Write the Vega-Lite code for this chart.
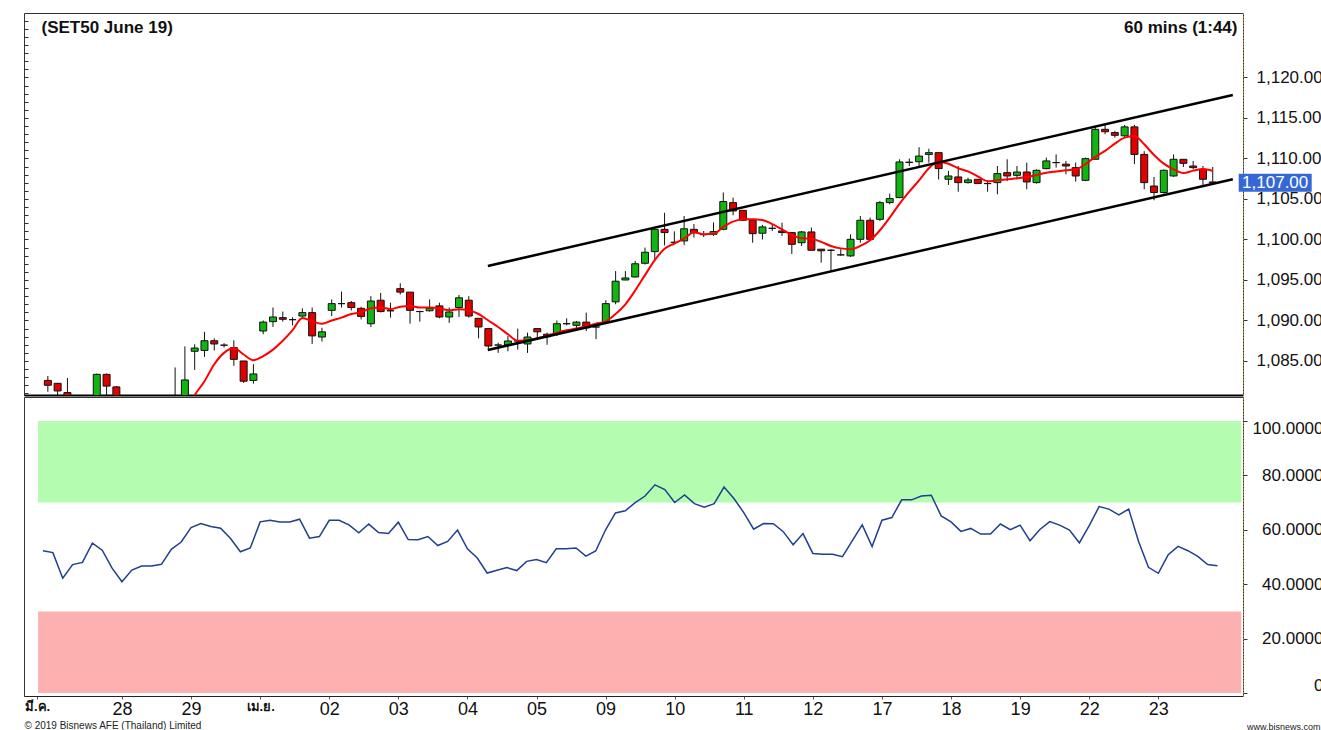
{
"$schema": "https://vega.github.io/schema/vega-lite/v6.json",
"background": "white",
"padding": {"left": 23, "top": 12, "right": 0, "bottom": 0},
"config": {"font": "Liberation Sans", "view": {"stroke": "#333"}, "axis": {"grid": false}},
"datasets": {
"bars": [
{"i":0,"o":1082.6,"h":1083.15,"l":1081.2,"c":1082.0,"rsi":52.3},
{"i":1,"o":1082.24,"h":1082.3,"l":1080.4,"c":1081.3,"rsi":51.6},
{"i":2,"o":1081.1,"h":1082.9,"l":1078.0,"c":1078.5,"rsi":42.2},
{"i":3,"o":1078.6,"h":1080.2,"l":1077.8,"c":1079.4,"rsi":47.2},
{"i":4,"o":1079.4,"h":1080.4,"l":1078.9,"c":1079.6,"rsi":48.0},
{"i":5,"o":1079.6,"h":1083.45,"l":1079.3,"c":1083.35,"rsi":55.1},
{"i":6,"o":1083.35,"h":1083.45,"l":1080.0,"c":1081.9,"rsi":52.5},
{"i":7,"o":1081.8,"h":1081.9,"l":1079.5,"c":1079.8,"rsi":45.9},
{"i":8,"o":1079.8,"h":1080.2,"l":1077.0,"c":1077.5,"rsi":40.9},
{"i":9,"o":1077.5,"h":1078.8,"l":1077.2,"c":1078.6,"rsi":45.2},
{"i":10,"o":1078.6,"h":1079.3,"l":1078.2,"c":1079.0,"rsi":46.7},
{"i":11,"o":1079.0,"h":1079.4,"l":1078.6,"c":1079.0,"rsi":46.7},
{"i":12,"o":1079.0,"h":1079.6,"l":1078.7,"c":1079.2,"rsi":47.3},
{"i":13,"o":1079.2,"h":1084.2,"l":1079.0,"c":1080.4,"rsi":52.8},
{"i":14,"o":1080.4,"h":1086.8,"l":1080.0,"c":1082.66,"ma":1078.8,"rsi":55.5},
{"i":15,"o":1086.2,"h":1087.06,"l":1083.9,"c":1086.6,"ma":1080.8,"rsi":60.8},
{"i":16,"o":1086.3,"h":1088.6,"l":1085.5,"c":1087.5,"ma":1082.5,"rsi":62.3},
{"i":17,"o":1087.5,"h":1087.8,"l":1086.3,"c":1087.1,"ma":1084.6,"rsi":61.2},
{"i":18,"o":1086.95,"h":1087.2,"l":1086.65,"c":1086.95,"ma":1086.0,"rsi":60.6},
{"i":19,"o":1086.65,"h":1087.55,"l":1084.4,"c":1085.2,"ma":1086.6,"rsi":56.8},
{"i":20,"o":1085.0,"h":1085.0,"l":1082.3,"c":1082.5,"ma":1085.8,"rsi":51.9},
{"i":21,"o":1082.6,"h":1084.6,"l":1082.2,"c":1083.4,"ma":1085.1,"rsi":53.3},
{"i":22,"o":1088.7,"h":1090.0,"l":1088.3,"c":1089.8,"ma":1085.6,"rsi":62.9},
{"i":23,"o":1089.86,"h":1091.6,"l":1089.2,"c":1090.43,"ma":1086.4,"rsi":63.5},
{"i":24,"o":1090.35,"h":1091.1,"l":1089.86,"c":1090.15,"ma":1087.5,"rsi":62.9},
{"i":25,"o":1090.1,"h":1090.4,"l":1089.4,"c":1090.1,"ma":1088.8,"rsi":62.9},
{"i":26,"o":1090.55,"h":1091.5,"l":1090.43,"c":1090.97,"ma":1090.3,"rsi":63.9},
{"i":27,"o":1090.97,"h":1091.6,"l":1087.1,"c":1088.1,"ma":1089.9,"rsi":56.9},
{"i":28,"o":1087.96,"h":1089.1,"l":1087.4,"c":1088.6,"ma":1089.6,"rsi":57.5},
{"i":29,"o":1091.25,"h":1092.6,"l":1090.55,"c":1092.08,"ma":1090.0,"rsi":63.5},
{"i":30,"o":1092.08,"h":1093.56,"l":1091.6,"c":1092.08,"ma":1090.35,"rsi":63.5},
{"i":31,"o":1092.2,"h":1092.4,"l":1091.25,"c":1091.6,"ma":1090.8,"rsi":61.8},
{"i":32,"o":1091.5,"h":1091.7,"l":1090.14,"c":1090.5,"ma":1091.0,"rsi":58.9},
{"i":33,"o":1089.6,"h":1093.0,"l":1089.2,"c":1092.4,"ma":1091.5,"rsi":62.1},
{"i":34,"o":1092.5,"h":1093.4,"l":1091.0,"c":1091.1,"ma":1091.6,"rsi":59.0},
{"i":35,"o":1091.2,"h":1092.2,"l":1090.35,"c":1091.2,"ma":1091.4,"rsi":58.6},
{"i":36,"o":1093.93,"h":1094.6,"l":1093.2,"c":1093.5,"ma":1091.7,"rsi":62.8},
{"i":37,"o":1093.5,"h":1093.5,"l":1089.6,"c":1091.25,"ma":1091.8,"rsi":56.4},
{"i":38,"o":1091.1,"h":1091.2,"l":1089.85,"c":1091.1,"ma":1091.6,"rsi":56.3},
{"i":39,"o":1091.2,"h":1092.6,"l":1091.1,"c":1091.5,"ma":1091.6,"rsi":57.5},
{"i":40,"o":1091.8,"h":1092.2,"l":1090.27,"c":1090.43,"ma":1091.5,"rsi":54.2},
{"i":41,"o":1090.43,"h":1091.6,"l":1089.7,"c":1091.05,"ma":1091.25,"rsi":55.7},
{"i":42,"o":1091.6,"h":1093.15,"l":1090.43,"c":1092.8,"ma":1091.4,"rsi":59.9},
{"i":43,"o":1092.5,"h":1093.0,"l":1090.35,"c":1090.55,"ma":1091.25,"rsi":53.0},
{"i":44,"o":1090.27,"h":1090.27,"l":1087.8,"c":1089.2,"ma":1090.8,"rsi":49.6},
{"i":45,"o":1089.0,"h":1089.0,"l":1086.3,"c":1086.85,"ma":1090.0,"rsi":44.1},
{"i":46,"o":1086.97,"h":1087.26,"l":1086.0,"c":1086.97,"ma":1089.2,"rsi":45.1},
{"i":47,"o":1086.97,"h":1088.1,"l":1086.2,"c":1087.47,"ma":1088.3,"rsi":46.1},
{"i":48,"o":1087.47,"h":1089.0,"l":1086.4,"c":1087.47,"ma":1087.5,"rsi":45.0},
{"i":49,"o":1087.1,"h":1088.5,"l":1086.0,"c":1087.96,"ma":1087.55,"rsi":48.4},
{"i":50,"o":1089.0,"h":1089.0,"l":1087.8,"c":1088.6,"ma":1087.8,"rsi":49.1},
{"i":51,"o":1088.3,"h":1088.5,"l":1087.0,"c":1088.0,"ma":1088.1,"rsi":47.9},
{"i":52,"o":1088.4,"h":1090.0,"l":1088.1,"c":1089.6,"ma":1088.5,"rsi":53.0},
{"i":53,"o":1089.6,"h":1090.27,"l":1089.4,"c":1089.6,"ma":1088.8,"rsi":53.0},
{"i":54,"o":1089.4,"h":1089.94,"l":1088.8,"c":1089.8,"ma":1089.0,"rsi":53.3},
{"i":55,"o":1089.8,"h":1090.97,"l":1088.7,"c":1089.1,"ma":1089.3,"rsi":50.3},
{"i":56,"o":1089.2,"h":1089.7,"l":1087.7,"c":1089.2,"ma":1089.6,"rsi":52.2},
{"i":57,"o":1089.86,"h":1092.5,"l":1089.7,"c":1092.08,"ma":1089.9,"rsi":60.0},
{"i":58,"o":1092.3,"h":1096.1,"l":1092.0,"c":1094.85,"ma":1090.8,"rsi":66.2},
{"i":59,"o":1095.0,"h":1096.1,"l":1094.96,"c":1095.25,"ma":1092.0,"rsi":67.0},
{"i":60,"o":1095.37,"h":1097.34,"l":1095.3,"c":1097.0,"ma":1093.7,"rsi":70.0},
{"i":61,"o":1097.06,"h":1099.0,"l":1096.9,"c":1098.42,"ma":1095.6,"rsi":72.4},
{"i":62,"o":1098.5,"h":1101.25,"l":1097.5,"c":1101.25,"ma":1097.45,"rsi":76.5},
{"i":63,"o":1101.25,"h":1103.3,"l":1099.28,"c":1100.85,"ma":1098.85,"rsi":74.8},
{"i":64,"o":1099.65,"h":1101.0,"l":1099.4,"c":1099.65,"ma":1099.5,"rsi":70.0},
{"i":65,"o":1099.82,"h":1102.9,"l":1099.3,"c":1101.32,"ma":1100.1,"rsi":72.8},
{"i":66,"o":1101.25,"h":1101.9,"l":1100.25,"c":1100.82,"ma":1100.9,"rsi":69.6},
{"i":67,"o":1100.6,"h":1101.05,"l":1100.3,"c":1100.6,"ma":1100.64,"rsi":68.3},
{"i":68,"o":1100.64,"h":1102.1,"l":1100.44,"c":1100.97,"ma":1100.7,"rsi":69.6},
{"i":69,"o":1101.26,"h":1105.8,"l":1101.14,"c":1104.68,"ma":1101.55,"rsi":75.7},
{"i":70,"o":1104.55,"h":1105.17,"l":1102.99,"c":1103.52,"ma":1102.2,"rsi":71.5},
{"i":71,"o":1103.6,"h":1103.6,"l":1102.29,"c":1102.37,"ma":1102.5,"rsi":66.3},
{"i":72,"o":1102.37,"h":1102.37,"l":1099.6,"c":1100.72,"ma":1102.5,"rsi":60.2},
{"i":73,"o":1100.77,"h":1101.8,"l":1100.0,"c":1101.55,"ma":1102.4,"rsi":62.3},
{"i":74,"o":1101.38,"h":1101.8,"l":1101.05,"c":1101.38,"ma":1101.9,"rsi":62.2},
{"i":75,"o":1101.05,"h":1102.08,"l":1100.44,"c":1100.85,"ma":1101.26,"rsi":59.3},
{"i":76,"o":1100.85,"h":1100.85,"l":1098.2,"c":1099.4,"ma":1100.56,"rsi":54.5},
{"i":77,"o":1099.6,"h":1101.05,"l":1099.2,"c":1100.93,"ma":1100.15,"rsi":58.6},
{"i":78,"o":1100.93,"h":1101.47,"l":1098.67,"c":1098.67,"ma":1100.1,"rsi":51.3},
{"i":79,"o":1098.8,"h":1098.8,"l":1097.14,"c":1098.6,"ma":1099.7,"rsi":51.0},
{"i":80,"o":1098.67,"h":1098.8,"l":1096.1,"c":1098.67,"ma":1099.2,"rsi":51.0},
{"i":81,"o":1098.1,"h":1098.8,"l":1098.0,"c":1098.1,"ma":1098.9,"rsi":50.1},
{"i":82,"o":1097.97,"h":1100.64,"l":1097.85,"c":1100.02,"ma":1098.8,"rsi":56.0},
{"i":83,"o":1100.02,"h":1102.9,"l":1099.6,"c":1102.37,"ma":1099.2,"rsi":61.8},
{"i":84,"o":1102.37,"h":1102.7,"l":1099.82,"c":1100.02,"ma":1099.9,"rsi":53.8},
{"i":85,"o":1102.49,"h":1104.76,"l":1102.29,"c":1104.55,"ma":1101.14,"rsi":63.5},
{"i":86,"o":1104.55,"h":1105.66,"l":1104.34,"c":1105.05,"ma":1102.7,"rsi":64.5},
{"i":87,"o":1105.17,"h":1109.9,"l":1105.1,"c":1109.57,"ma":1104.4,"rsi":71.0},
{"i":88,"o":1109.5,"h":1110.0,"l":1109.07,"c":1109.55,"ma":1105.9,"rsi":71.0},
{"i":89,"o":1109.6,"h":1111.4,"l":1109.07,"c":1110.3,"ma":1107.3,"rsi":72.4},
{"i":90,"o":1110.5,"h":1111.2,"l":1109.49,"c":1110.72,"ma":1108.8,"rsi":72.7},
{"i":91,"o":1110.72,"h":1110.72,"l":1107.4,"c":1108.75,"ma":1109.6,"rsi":65.1},
{"i":92,"o":1107.43,"h":1108.46,"l":1106.73,"c":1107.84,"ma":1109.35,"rsi":62.9},
{"i":93,"o":1107.72,"h":1109.07,"l":1105.9,"c":1107.02,"ma":1108.8,"rsi":59.4},
{"i":94,"o":1107.02,"h":1107.63,"l":1106.9,"c":1107.35,"ma":1108.4,"rsi":60.5},
{"i":95,"o":1107.43,"h":1107.43,"l":1106.9,"c":1106.9,"ma":1107.8,"rsi":58.4},
{"i":96,"o":1106.9,"h":1107.3,"l":1105.9,"c":1106.9,"ma":1107.2,"rsi":58.4},
{"i":97,"o":1107.02,"h":1109.07,"l":1105.58,"c":1108.13,"ma":1107.3,"rsi":62.1},
{"i":98,"o":1108.25,"h":1109.9,"l":1107.2,"c":1107.84,"ma":1107.43,"rsi":60.0},
{"i":99,"o":1107.92,"h":1109.07,"l":1107.43,"c":1108.33,"ma":1107.55,"rsi":61.7},
{"i":100,"o":1108.33,"h":1109.49,"l":1106.2,"c":1107.1,"ma":1107.7,"rsi":56.0},
{"i":101,"o":1107.02,"h":1108.66,"l":1106.9,"c":1108.54,"ma":1107.96,"rsi":60.1},
{"i":102,"o":1108.75,"h":1110.1,"l":1108.66,"c":1109.7,"ma":1108.25,"rsi":63.0},
{"i":103,"o":1109.49,"h":1110.5,"l":1108.87,"c":1109.49,"ma":1108.4,"rsi":61.7},
{"i":104,"o":1109.3,"h":1109.7,"l":1108.05,"c":1109.07,"ma":1108.54,"rsi":59.9},
{"i":105,"o":1108.87,"h":1109.49,"l":1107.14,"c":1107.84,"ma":1108.66,"rsi":55.2},
{"i":106,"o":1107.3,"h":1110.1,"l":1107.2,"c":1109.98,"ma":1109.3,"rsi":61.5},
{"i":107,"o":1109.9,"h":1113.9,"l":1109.9,"c":1113.6,"ma":1110.2,"rsi":68.5},
{"i":108,"o":1113.6,"h":1114.2,"l":1113.0,"c":1113.3,"ma":1110.93,"rsi":67.6},
{"i":109,"o":1113.2,"h":1113.4,"l":1112.57,"c":1112.86,"ma":1111.83,"rsi":65.5},
{"i":110,"o":1112.8,"h":1114.14,"l":1112.66,"c":1113.9,"ma":1112.57,"rsi":67.6},
{"i":111,"o":1113.9,"h":1114.14,"l":1109.3,"c":1110.5,"ma":1112.78,"rsi":55.7},
{"i":112,"o":1110.5,"h":1110.9,"l":1106.2,"c":1107.02,"ma":1111.75,"rsi":46.2},
{"i":113,"o":1106.6,"h":1107.72,"l":1104.84,"c":1105.8,"ma":1110.43,"rsi":44.0},
{"i":114,"o":1105.8,"h":1108.66,"l":1105.66,"c":1108.54,"ma":1109.36,"rsi":50.8},
{"i":115,"o":1107.84,"h":1110.5,"l":1107.72,"c":1109.9,"ma":1108.66,"rsi":53.9},
{"i":116,"o":1109.9,"h":1109.9,"l":1108.95,"c":1109.4,"ma":1108.2,"rsi":52.3},
{"i":117,"o":1109.07,"h":1109.7,"l":1108.66,"c":1108.87,"ma":1108.5,"rsi":50.2},
{"i":118,"o":1108.66,"h":1109.07,"l":1106.73,"c":1107.43,"ma":1108.7,"rsi":47.2},
{"i":119,"o":1107.1,"h":1108.95,"l":1106.9,"c":1107.0,"ma":1108.46,"rsi":46.8}
],
"trend": [
{"k":"upper","i":44.95,"p":1096.73},{"k":"upper","i":121.05,"p":1117.84},
{"k":"lower","i":44.95,"p":1086.36},{"k":"lower","i":121.05,"p":1107.43}
],
"zones": [{"zone":"overbought","lo":70,"hi":100},{"zone":"oversold","lo":0,"hi":30}],
"last": [{"p":1107.0}]
},
"vconcat": [
{
"width": 1219, "height": 382,
"resolve": {"axis": {"x": "independent", "y": "independent"}},
"layer": [
{
"data": {"name": "bars"},
"mark": {"type": "rule", "color": "#111", "strokeWidth": 1, "clip": true},
"encoding": {
"x": {"field": "i", "type": "quantitative", "scale": {"domain": [-1.925, 121.58], "nice": false, "zero": false},
 "axis": {"orient": "bottom", "labels": false, "ticks": false, "domainColor": "#000", "domainWidth": 2, "title": null}},
"y": {"field": "l", "type": "quantitative", "scale": {"domain": [1080.8, 1127.96], "nice": false, "zero": false},
 "axis": {"orient": "right", "values": [1085,1090,1095,1100,1105,1110,1115,1120], "format": ",.2f", "labelFontSize": 17, "labelColor": "#111", "labelAlign": "left", "labelBaseline": "middle", "labelPadding": 9, "tickSize": 4, "tickColor": "#333", "domainColor": "#e0b840", "domainDash": [1,2], "title": null}},
"y2": {"field": "h"}
}
},
{
"data": {"name": "bars"},
"mark": {"type": "bar", "size": 7, "stroke": "#111", "strokeWidth": 1, "clip": true},
"encoding": {
"x": {"field": "i", "type": "quantitative", "scale": {"domain": [-1.925, 121.58], "nice": false, "zero": false},
 "axis": {"orient": "top", "labels": false, "ticks": false, "domain": false, "title": "60 mins (1:44)", "titleX": 1213, "titleY": 19, "titleAlign": "right", "titleBaseline": "alphabetic", "titleFontSize": 17, "titleFontWeight": "bold", "titleColor": "#111"}},
"y": {"field": "o", "type": "quantitative", "scale": {"domain": [1080.8, 1127.96], "nice": false, "zero": false},
 "axis": {"orient": "left", "labels": false, "domain": false, "tickSize": -4, "tickColor": "#333", "title": null,
  "values": [1081,1082,1083,1084,1085,1086,1087,1088,1089,1090,1091,1092,1093,1094,1095,1096,1097,1098,1099,1100,1101,1102,1103,1104,1105,1106,1107,1108,1109,1110,1111,1112,1113,1114,1115,1116,1117,1118,1119,1120,1121,1122,1123,1124,1125,1126,1127]}},
"y2": {"field": "c"},
"color": {"condition": {"test": "datum.c >= datum.o", "value": "#12b412"}, "value": "#e00000"}
}
},
{
"data": {"name": "bars"},
"mark": {"type": "line", "color": "#ff0000", "strokeWidth": 2, "interpolate": "monotone", "clip": true},
"encoding": {
"x": {"field": "i", "type": "quantitative", "scale": {"domain": [-1.925, 121.58], "nice": false, "zero": false},
 "axis": {"orient": "top", "labels": false, "ticks": false, "domain": false, "title": "(SET50 June 19)", "titleX": 17, "titleY": 19, "titleAlign": "left", "titleBaseline": "alphabetic", "titleFontSize": 17, "titleFontWeight": "bold", "titleColor": "#111"}},
"y": {"field": "ma", "type": "quantitative", "scale": {"domain": [1080.8, 1127.96], "nice": false, "zero": false}, "axis": null}
}
},
{
"data": {"name": "trend"},
"mark": {"type": "line", "color": "#000", "strokeWidth": 2.5},
"encoding": {
"x": {"field": "i", "type": "quantitative", "axis": null},
"y": {"field": "p", "type": "quantitative", "axis": null},
"detail": {"field": "k"}
}
},
{
"data": {"name": "last"},
"mark": {"type": "tick", "orient": "horizontal", "size": 73, "thickness": 18, "color": "#3568d4", "opacity": 1},
"encoding": {
"x": {"datum": 125.38, "type": "quantitative", "axis": null},
"y": {"field": "p", "type": "quantitative", "axis": null}
}
},
{
"data": {"name": "last"},
"mark": {"type": "text", "color": "white", "fontSize": 17, "align": "center", "baseline": "middle", "font": "Liberation Sans"},
"encoding": {
"x": {"datum": 125.38, "type": "quantitative", "axis": null},
"y": {"field": "p", "type": "quantitative", "axis": null},
"text": {"field": "p", "type": "quantitative", "format": ",.2f"}
}
}
]
},
{
"width": 1219, "height": 299,
"resolve": {"axis": {"x": "independent", "y": "independent"}},
"layer": [
{
"data": {"name": "zones"},
"mark": {"type": "rect"},
"encoding": {
"x": {"datum": -0.5, "type": "quantitative", "scale": {"domain": [-1.925, 121.58], "nice": false, "zero": false},
 "axis": {"orient": "bottom", "values": [-0.6,8,15,22,29,36,43,50,57,64,71,78,85,92,99,106,113],
  "labelExpr": "datum.value < 0 ? 'มี.ค.' : ['28','29','เม.ย.','02','03','04','05','09','10','11','12','17','18','19','22','23'][round((datum.value - 8) / 7)]",
  "labelFontSize": {"condition": {"test": "datum.value < 0 || datum.value == 22", "value": 13}, "value": 18},
  "labelFontWeight": {"condition": {"test": "datum.value < 0 || datum.value == 22", "value": "bold"}, "value": "normal"},
  "labelColor": "#111", "tickSize": 3, "tickColor": "#555", "labelPadding": 1, "labelOverlap": false, "labelFlush": false, "labelBound": false,
  "domainColor": "#222",
  "title": "© 2019 Bisnews AFE (Thailand) Limited", "titleX": 0, "titleY": 32, "titleAlign": "left", "titleAnchor": "start", "titleBaseline": "alphabetic", "titleFontSize": 10, "titleFontWeight": "normal", "titleColor": "#222"}},
"x2": {"datum": 121.4},
"y": {"field": "lo", "type": "quantitative", "scale": {"domain": [-1.1, 108.8], "nice": false, "zero": false},
 "axis": {"orient": "right", "values": [0,20,40,60,80,100], "labelExpr": "datum.value == 0 ? '0' : format(datum.value, '.4f')", "labelAlign": "right", "labelPadding": 76, "tickSize": 4, "tickColor": "#333", "labelFontSize": 17, "labelColor": "#111",
  "labelBaseline": {"condition": {"test": "datum.value == 100", "value": "top"}, "value": "middle"},
  "labelOffset": {"condition": {"test": "datum.value == 0", "value": -8}, "value": 0},
  "domainColor": "#e0b840", "domainDash": [1,2], "title": null}},
"y2": {"field": "hi"},
"color": {"field": "zone", "type": "nominal", "scale": {"domain": ["overbought","oversold"], "range": ["#b3fcb0","#fdb0b0"]}, "legend": null}
}
},
{
"data": {"name": "bars"},
"mark": {"type": "line", "color": "#213f8f", "strokeWidth": 1.5},
"encoding": {
"x": {"field": "i", "type": "quantitative", "scale": {"domain": [-1.925, 121.58], "nice": false, "zero": false},
 "axis": {"orient": "bottom", "labels": false, "ticks": false, "domain": false, "title": "www.bisnews.com", "titleX": 1296, "titleY": 33, "titleAlign": "right", "titleBaseline": "alphabetic", "titleFontSize": 9, "titleFontWeight": "normal", "titleColor": "#222"}},
"y": {"field": "rsi", "type": "quantitative", "scale": {"domain": [-1.1, 108.8], "nice": false, "zero": false}, "axis": null}
}
}
]
}
],
"spacing": 2,
"bounds": "flush"
}
